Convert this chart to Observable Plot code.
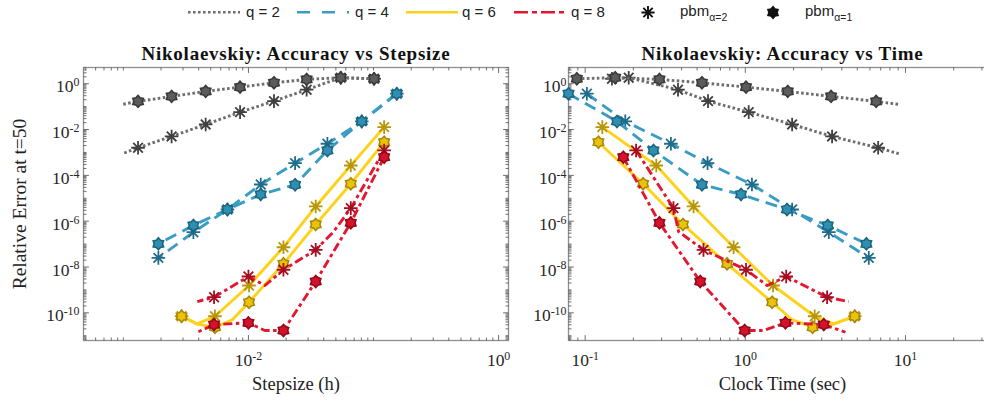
<!DOCTYPE html>
<html><head><meta charset="utf-8">
<script src="https://cdn.jsdelivr.net/npm/d3@7"></script>
<script src="https://cdn.jsdelivr.net/npm/@observablehq/plot@0.6"></script>
<style>
body{margin:0;background:#fff;}
#wrap{position:relative;width:984px;height:400px;overflow:hidden;background:#fff;}
#legend{position:absolute;left:0;top:0;}
#left{position:absolute;left:0;top:30px;width:520px;height:370px;}
#right{position:absolute;left:520px;top:30px;width:476px;height:370px;}
</style></head><body>
<div id="wrap"><svg id="legend" width="984" height="30"></svg><div id="left"></div><div id="right"></div></div>
<script>
// ---------------- data ----------------
// q = 2
const q2a2Step = [0.101, 0.0547, 0.0292, 0.016, 0.00857, 0.00455, 0.00243, 0.00131, 0.00098];
const q2a2Time = [0.147, 0.187, 0.38, 0.585, 1.05, 1.96, 3.48, 6.75, 9.08];
const q2a2Err  = [1.65, 1.83, 0.547, 0.174, 0.0575, 0.0167, 0.005, 0.0016, 0.00088];
const q2a2Mark = [1, 1, 1, 1, 1, 1, 1, 1, 0];
const q2a1Step = [0.101, 0.0547, 0.0292, 0.016, 0.00857, 0.00455, 0.00243, 0.00131, 0.00098];
const q2a1Time = [0.0887, 0.154, 0.291, 0.536, 1.01, 1.84, 3.43, 6.56, 9.08];
const q2a1Err  = [1.65, 1.83, 1.54, 1.1, 0.711, 0.461, 0.279, 0.169, 0.125];
const q2a1Mark = [1, 1, 1, 1, 1, 1, 1, 1, 0];
// q = 4
const q4a2Step = [0.1535, 0.0805, 0.0428, 0.0236, 0.01254, 0.00679, 0.00363, 0.001905];
const q4a2Time = [0.1025, 0.178, 0.343, 0.581, 1.1, 1.96, 3.32, 5.9];
const q4a2Err  = [0.366, 0.0226, 2.4e-3, 3.41e-4, 4.0e-5, 3.24e-6, 3.3e-7, 2.5e-8];
const q4a2Mark = [1, 1, 1, 1, 1, 1, 1, 1];
const q4a1Step = [0.1535, 0.0805, 0.0428, 0.0236, 0.01254, 0.00679, 0.00363, 0.001905];
const q4a1Time = [0.0787, 0.158, 0.267, 0.536, 0.94, 1.82, 3.27, 5.7];
const q4a1Err  = [0.366, 0.0226, 1.22e-3, 3.9e-5, 1.47e-5, 3.24e-6, 6.5e-7, 1.03e-7];
const q4a1Mark = [1, 1, 1, 1, 1, 1, 1, 1];
// q = 6
const q6a2Step = [0.1216, 0.0658, 0.0345, 0.01905, 0.01011, 0.0054, 0.0039, 0.00292];
const q6a2Time = [0.128, 0.278, 0.475, 0.845, 1.49, 2.71, 3.56, 4.82];
const q6a2Err  = [0.0127, 2.7e-4, 4.4e-6, 7.3e-8, 1.56e-9, 7.1e-11, 3.3e-11, 7.1e-11];
const q6a2Mark = [1, 1, 1, 1, 1, 1, 0, 1];
const q6a1Step = [0.1216, 0.0658, 0.0345, 0.01905, 0.01011, 0.00744, 0.0054, 0.0039, 0.00292];
const q6a1Time = [0.121, 0.23, 0.408, 0.769, 1.47, 1.96, 2.63, 3.56, 4.82];
const q6a1Err  = [2.8e-3, 4.3e-5, 7.2e-7, 1.38e-8, 2.9e-10, 5.0e-11, 2.35e-11, 3.2e-11, 7.1e-11];
const q6a1Mark = [1, 1, 1, 1, 1, 0, 1, 0, 1];
// q = 8
const q8a2Step = [0.1216, 0.0658, 0.048, 0.0345, 0.01905, 0.01355, 0.01, 0.00531, 0.0039];
const q8a2Time = [0.208, 0.356, 0.383, 0.548, 1.01, 1.37, 1.8, 3.24, 4.42];
const q8a2Err  = [1.22e-3, 3.7e-6, 3.5e-7, 5.6e-8, 7.6e-9, 1.56e-9, 3.85e-9, 4.8e-10, 3.1e-10];
const q8a2Mark = [1, 1, 0, 1, 1, 0, 1, 1, 0];
const q8a1Step = [0.1216, 0.0658, 0.0345, 0.01905, 0.01355, 0.01, 0.00531, 0.0039];
const q8a1Time = [0.173, 0.291, 0.523, 0.99, 1.3, 1.78, 3.09, 4.22];
const q8a1Err  = [6.2e-4, 8.5e-7, 2.33e-9, 1.69e-11, 1.69e-11, 3.66e-11, 3.08e-11, 1.42e-11];
const q8a1Mark = [1, 1, 1, 1, 0, 1, 1, 0];

const legendLabels = ["q = 2", "q = 4", "q = 6", "q = 8"];
const methodLabels = ["α=2", "α=1"];
const yLabelTicks = [1, 1e-2, 1e-4, 1e-6, 1e-8, 1e-10];
const xLabelTicksStep = [1e-2, 1];
const xLabelTicksTime = [0.1, 1, 10];

// ---------------- styles ----------------
const qStyle = {
  2: {line: "#6e6e6e", dash: "2.6 2.4", mFill: "#5c5c5c", mStroke: "#3a3a3a", ast: "#404040"},
  4: {line: "#3a9cc3", dash: "12 7", mFill: "#2f8fb3", mStroke: "#1c6580", ast: "#1f6d8a"},
  6: {line: "#ffd21a", dash: null, mFill: "#eac40a", mStroke: "#a8870a", ast: "#b8960b"},
  8: {line: "#e3172f", dash: "9 3.5 3.5 3.5", mFill: "#d6112b", mStroke: "#900a19", ast: "#a50d20"}
};

function rows(step, time, err, mark) {
  return step.map((s, i) => ({step: s, time: time[i], err: err[i], mark: mark[i]}));
}
const series = [
  {q: 2, alpha: 2, data: rows(q2a2Step, q2a2Time, q2a2Err, q2a2Mark)},
  {q: 2, alpha: 1, data: rows(q2a1Step, q2a1Time, q2a1Err, q2a1Mark)},
  {q: 4, alpha: 2, data: rows(q4a2Step, q4a2Time, q4a2Err, q4a2Mark)},
  {q: 4, alpha: 1, data: rows(q4a1Step, q4a1Time, q4a1Err, q4a1Mark)},
  {q: 6, alpha: 2, data: rows(q6a2Step, q6a2Time, q6a2Err, q6a2Mark)},
  {q: 6, alpha: 1, data: rows(q6a1Step, q6a1Time, q6a1Err, q6a1Mark)},
  {q: 8, alpha: 2, data: rows(q8a2Step, q8a2Time, q8a2Err, q8a2Mark)},
  {q: 8, alpha: 1, data: rows(q8a1Step, q8a1Time, q8a1Err, q8a1Mark)}
];

// custom marker shapes
const asterisk8 = {draw(c, size) {
  const r = Math.sqrt(size / Math.PI);
  for (let k = 0; k < 4; k++) {
    const a = k * Math.PI / 4, dx = r * Math.cos(a), dy = r * Math.sin(a);
    c.moveTo(-dx, -dy); c.lineTo(dx, dy);
  }
}};
const hexagram = {draw(c, size) {
  const r = Math.sqrt(size / Math.PI), ri = r * 0.7;
  for (let k = 0; k < 12; k++) {
    const a = Math.PI / 2 + k * Math.PI / 6, rr = k % 2 ? ri : r;
    const x = rr * Math.cos(a), y = -rr * Math.sin(a);
    if (k) c.lineTo(x, y); else c.moveTo(x, y);
  }
  c.closePath();
}};
const tickShape = {draw(c, l) { c.moveTo(0, 0); c.lineTo(0, -l); }};

function logTicks(lo, hi) {
  const out = [];
  for (let e = Math.floor(Math.log10(lo)); e <= Math.ceil(Math.log10(hi)); e++)
    for (let m = 1; m < 10; m++) { const v = m * Math.pow(10, e); if (v >= lo && v <= hi) out.push(v); }
  return out;
}
const fmt = d => "10^" + Math.round(Math.log10(d));
const yDomain = [6.2e-12, 5.1];
const tickColor = "#6f6f6f";

function panel({xKey, xDomain, width, marginLeft, marginRight, xLabels, title, xLabel, yLabel, yPad}) {
  const xt = logTicks(xDomain[0], xDomain[1]);
  const yt = logTicks(yDomain[0], yDomain[1]);
  const xMajor = xt.filter(v => xLabels.some(l => Math.abs(l - v) / l < 1e-9));
  const xMinor = xt.filter(v => !xMajor.includes(v));
  const yMajor = yt.filter(v => yLabelTicks.some(l => Math.abs(l - v) / l < 1e-9));
  const yMinor = yt.filter(v => !yMajor.includes(v));
  const tickMarks = [];
  for (const [vals, len] of [[xMajor, 5], [xMinor, 2.6]]) {
    tickMarks.push(Plot.vector(vals, {x: d => d, frameAnchor: "bottom", rotate: 0, length: len, anchor: "start", shape: tickShape, stroke: tickColor, strokeWidth: 1}));
    tickMarks.push(Plot.vector(vals, {x: d => d, frameAnchor: "top", rotate: 180, length: len, anchor: "start", shape: tickShape, stroke: tickColor, strokeWidth: 1}));
  }
  for (const [vals, len] of [[yMajor, 5], [yMinor, 2.6]]) {
    tickMarks.push(Plot.vector(vals, {y: d => d, frameAnchor: "left", rotate: 90, length: len, anchor: "start", shape: tickShape, stroke: tickColor, strokeWidth: 1}));
    tickMarks.push(Plot.vector(vals, {y: d => d, frameAnchor: "right", rotate: -90, length: len, anchor: "start", shape: tickShape, stroke: tickColor, strokeWidth: 1}));
  }
  const dataMarks = [];
  for (const s of series) {
    const st = qStyle[s.q];
    dataMarks.push(Plot.line(s.data, {x: xKey, y: "err", stroke: st.line, strokeWidth: 2.9, strokeDasharray: st.dash, strokeLinecap: "butt", strokeLinejoin: "round"}));
    const md = s.data.filter(d => d.mark);
    if (s.alpha === 2) {
      dataMarks.push(Plot.dot(md, {x: xKey, y: "err", symbol: asterisk8, r: 6.8, fill: "none", stroke: st.ast, strokeWidth: 1.8}));
    } else {
      dataMarks.push(Plot.dot(md, {x: xKey, y: "err", symbol: hexagram, r: 6, fill: st.mFill, stroke: st.mStroke, strokeWidth: 1.6}));
    }
  }
  const textMarks = [
    Plot.axisX({ticks: xLabels, tickFormat: fmt, tickSize: 0, tickPadding: 13, fontSize: 17.5, label: null}),
    Plot.axisY({ticks: yLabelTicks, tickFormat: fmt, tickSize: 0, tickPadding: yPad, fontSize: 17.5, dy: 3, label: null}),
    Plot.text([title], {frameAnchor: "top", lineAnchor: "middle", textAnchor: "middle", dy: -14, fontSize: 19, fontWeight: "bold", fill: "#111"}),
    Plot.text([xLabel], {frameAnchor: "bottom", lineAnchor: "middle", textAnchor: "middle", dy: 44, fontSize: 18.5, fill: "#222"})
  ];
  if (yLabel) textMarks.push(Plot.text([yLabel], {frameAnchor: "left", lineAnchor: "middle", textAnchor: "middle", dx: -64, rotate: -90, fontSize: 19.5, fill: "#222"}));
  const svg = Plot.plot({
    width, height: 370, marginTop: 37, marginBottom: 60, marginLeft, marginRight,
    x: {type: "log", domain: xDomain, label: null},
    y: {type: "log", domain: yDomain, label: null},
    style: {fontFamily: "'Liberation Serif', 'DejaVu Serif', serif", fontSize: "17px", color: "#262626", background: "transparent", maxWidth: "none", overflow: "visible"},
    marks: [Plot.frame({stroke: "#8f8f8f", strokeWidth: 1.3}), ...tickMarks, ...dataMarks, ...textMarks]
  });
  d3.select(svg).selectAll('g[aria-label="x-axis tick label"] text, g[aria-label="y-axis tick label"] text').each(function () {
    const m = (this.textContent || "").match(/^10\^(.*)$/);
    if (!m) return;
    const sel = d3.select(this);
    sel.text(null);
    sel.append("tspan").text("10");
    sel.append("tspan").attr("dy", "-0.52em").attr("font-size", "0.68em").text(m[1]);
  });
  d3.select(svg).selectAll("text").filter(function () { return this.textContent === title; })
    .attr("letter-spacing", "0.75px");
  return svg;
}

document.getElementById("left").appendChild(panel({
  xKey: "step", xDomain: [4.8e-4, 1.2], width: 520, marginLeft: 83, marginRight: 12,
  xLabels: xLabelTicksStep, title: "Nikolaevskiy: Accuracy vs Stepsize", xLabel: "Stepsize (h)",
  yLabel: "Relative Error at t=50", yPad: 4
}));
document.getElementById("right").appendChild(panel({
  xKey: "time", xDomain: [0.0787, 37], width: 476, marginLeft: 48, marginRight: 0,
  xLabels: xLabelTicksTime, title: "Nikolaevskiy: Accuracy vs Time", xLabel: "Clock Time (sec)",
  yLabel: null, yPad: 2
}));

// ---------------- legend ----------------
const lg = d3.select("#legend");
const sans = "'Liberation Sans', Arial, sans-serif";
const lineItems = [[188, 246], [297, 355], [406, 462], [514, 571]];
[2, 4, 6, 8].forEach((q, i) => {
  const st = qStyle[q];
  const [x0, tx] = lineItems[i];
  lg.append("line").attr("x1", x0).attr("x2", x0 + 52).attr("y1", 12.3).attr("y2", 12.3)
    .attr("stroke", st.line).attr("stroke-width", 2.6).attr("stroke-dasharray", i === 1 ? "13 12" : i === 3 ? "14 4 5 4" : st.dash);
  lg.append("text").attr("x", tx).attr("y", 16.5).attr("font-family", sans).attr("font-size", 15).attr("fill", "#222").text(legendLabels[i]);
});
function legendSymbol(sym, cx, filled) {
  const p = d3.path(); sym.draw(p, Math.PI * (filled ? 5.8 : 6.6) ** 2);
  lg.append("path").attr("d", p.toString()).attr("transform", `translate(${cx},12.5)`)
    .attr("fill", filled ? "#111" : "none").attr("stroke", "#111").attr("stroke-width", filled ? 1.6 : 1.9);
}
legendSymbol(asterisk8, 648, false);
legendSymbol(hexagram, 773, true);
[[680, methodLabels[0]], [805, methodLabels[1]]].forEach(([x, sub]) => {
  const t = lg.append("text").attr("x", x).attr("y", 15.5).attr("font-family", sans).attr("font-size", 15).attr("fill", "#222");
  t.append("tspan").text("pbm");
  t.append("tspan").attr("dy", 5.5).attr("font-size", 10.5).text(sub);
});
</script>
</body></html>
